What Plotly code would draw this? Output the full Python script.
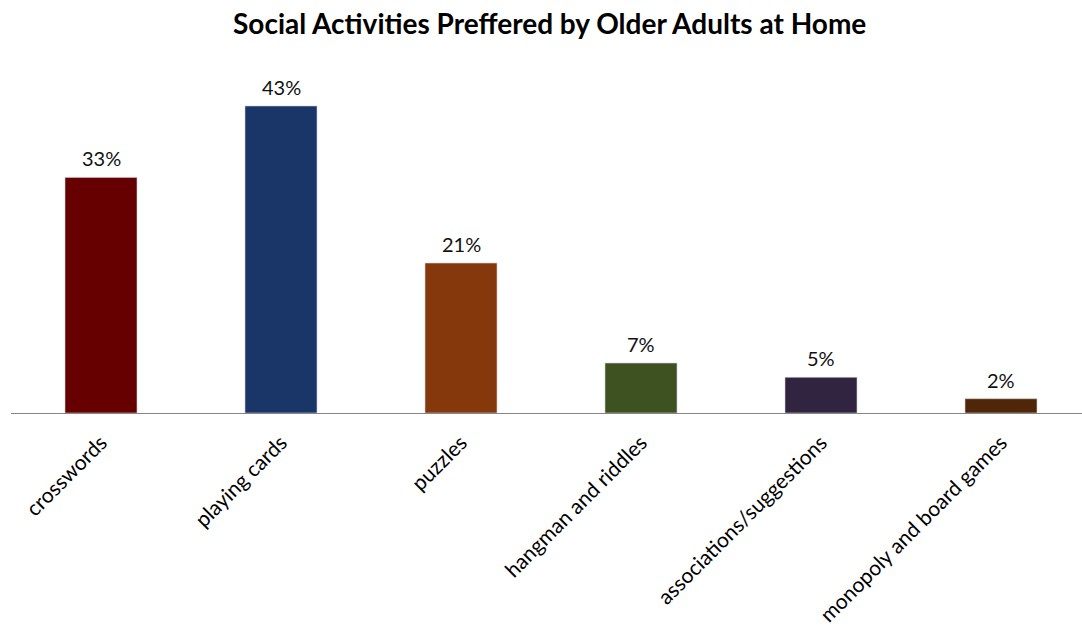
import plotly.graph_objects as go

# Share of older adults preferring each home activity (percent)
activities = [
    "crosswords",
    "playing cards",
    "puzzles",
    "hangman and riddles",
    "associations/suggestions",
    "monopoly and board games",
]
shares = [33, 43, 21, 7, 5, 2]
bar_colors = ["#660000", "#1A3668", "#84380C", "#3E5121", "#312441", "#502608"]

FONT = "Lato, 'Open Sans', sans-serif"

fig = go.Figure(
    go.Bar(
        x=activities,
        y=shares,
        width=0.4,
        marker=dict(color=bar_colors, line=dict(color="#D0D0D0", width=0.6)),
        hoverinfo="skip",
    )
)

# Percentage labels above each bar
for name, value in zip(activities, shares):
    fig.add_annotation(
        x=name,
        y=value,
        text=f"{value}%",
        showarrow=False,
        yanchor="bottom",
        yshift=5,
        font=dict(family=FONT, size=20, color="#111111"),
    )

fig.update_layout(
    width=1082,
    height=627,
    margin=dict(l=11, r=0, t=60, b=214, autoexpand=False),
    paper_bgcolor="white",
    plot_bgcolor="white",
    showlegend=False,
    title=dict(
        text="<b>Social Activities Preffered by Older Adults at Home</b>",
        x=0.508,
        xanchor="center",
        y=0.962,
        yanchor="middle",
        font=dict(family=FONT, size=28, color="#000000"),
    ),
    xaxis=dict(
        type="category",
        range=[-0.5, 5.45],
        automargin=False,
        showline=True,
        linecolor="#868686",
        linewidth=1.2,
        ticks="",
        tickangle=-45,
        ticklabelstandoff=8,
        tickfont=dict(family=FONT, size=21, color="#000000"),
        showgrid=False,
        fixedrange=True,
    ),
    yaxis=dict(
        range=[0, 49.44],
        visible=False,
        showgrid=False,
        zeroline=False,
        fixedrange=True,
    ),
)

fig.write_html("out.html")
